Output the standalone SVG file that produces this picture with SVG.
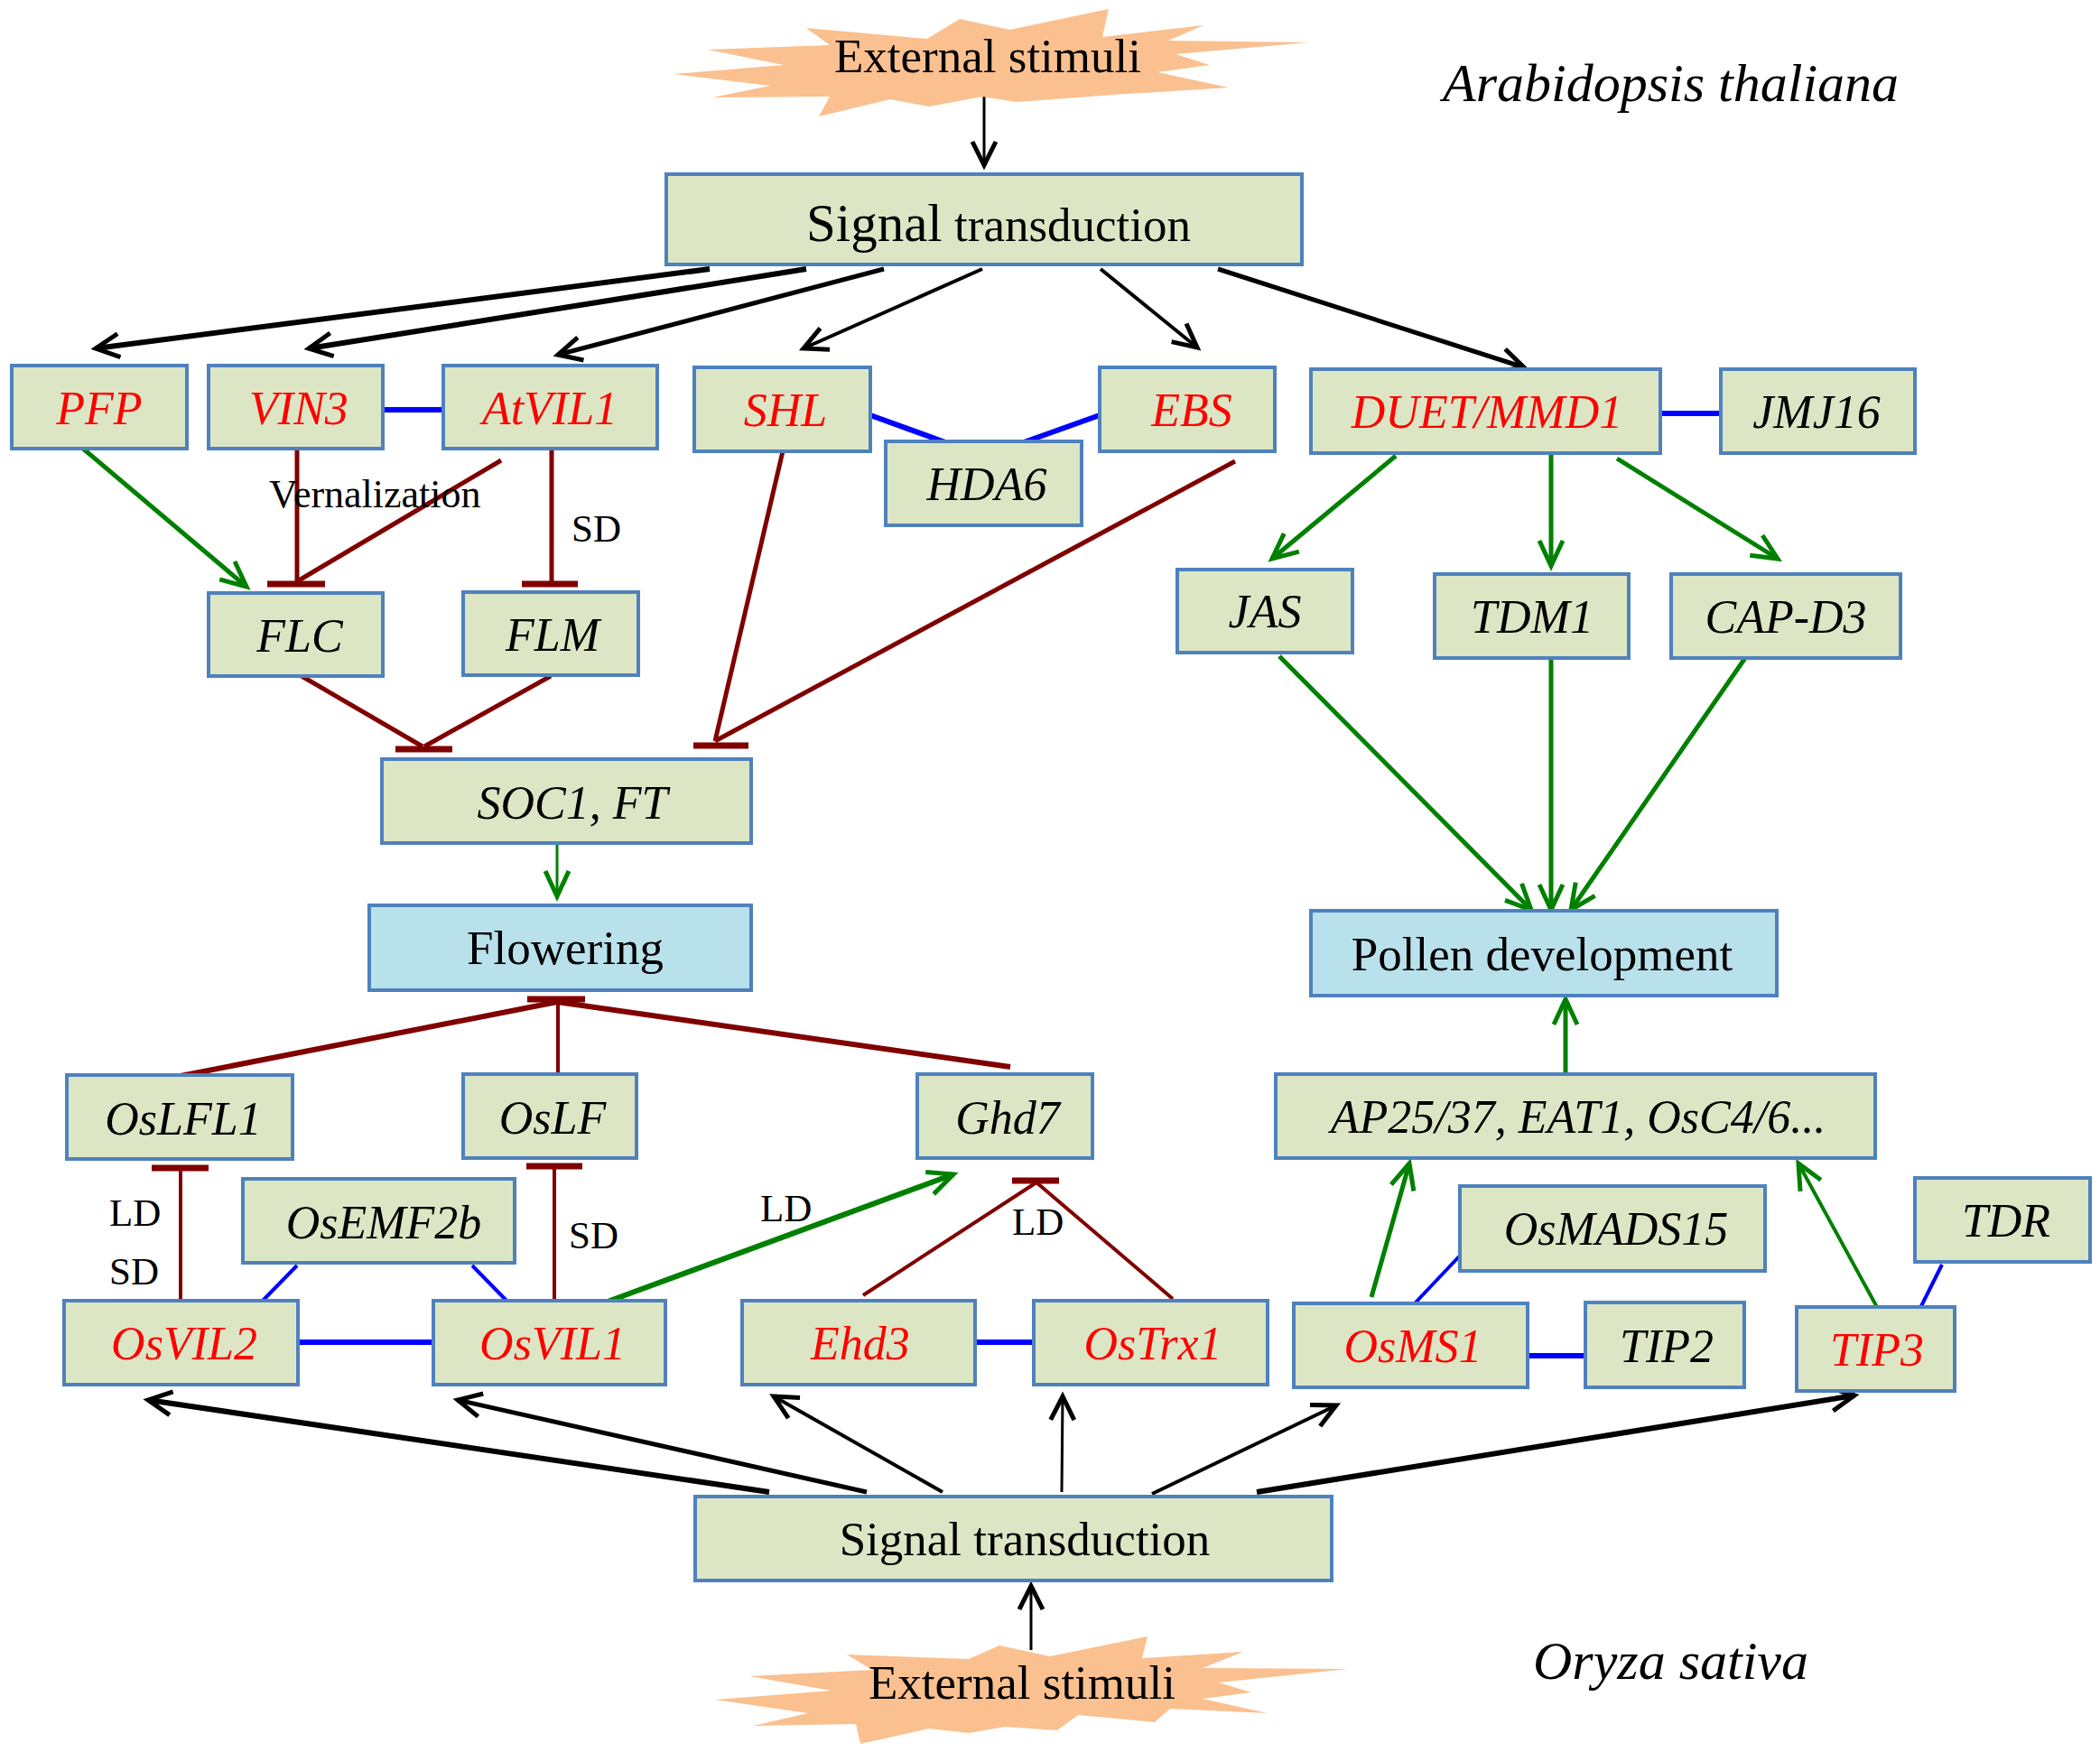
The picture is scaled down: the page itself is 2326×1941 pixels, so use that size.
<svg xmlns="http://www.w3.org/2000/svg" width="2326" height="1941" viewBox="0 0 2326 1941">
<defs>
<style>
.box{fill:#DCE6C4;stroke:#4F81BD;stroke-width:4}
.out{fill:#B9E1EB;stroke:#4F81BD;stroke-width:4}
.star{fill:#FAC08F;stroke:none}
text{font-family:"Liberation Serif","Times New Roman",serif;font-size:53px;fill:#000}
.g{font-style:italic;font-size:52px;text-anchor:middle}
.r{fill:#FF0000}
.c{text-anchor:middle}
.lab{font-size:43px}
.blk{stroke:#000;stroke-width:5;fill:none;marker-end:url(#ab)}
.grn{stroke:#008000;stroke-width:5;fill:none;marker-end:url(#ag)}
.inh{stroke:#800000;stroke-width:5;fill:none}
.bar{stroke:#800000;stroke-width:7;fill:none}
.ppi{stroke:#0000FF;stroke-width:6;fill:none}
</style>
<marker id="ab" markerUnits="userSpaceOnUse" orient="auto" overflow="visible" markerWidth="40" markerHeight="40" refX="0" refY="0">
<path d="M-26,-13 L0,0 L-26,13" fill="none" stroke="#000" stroke-width="5"/>
</marker>
<marker id="ag" markerUnits="userSpaceOnUse" orient="auto" overflow="visible" markerWidth="40" markerHeight="40" refX="0" refY="0">
<path d="M-28,-13 L0,0 L-28,13" fill="none" stroke="#008000" stroke-width="5"/>
</marker>
</defs>
<rect width="2326" height="1941" fill="#FFFFFF"/>

<g id="connectors">
<!-- black signal arrows, top -->
<line class="blk" x1="1090" y1="107" x2="1090" y2="183" style="stroke-width:3"/>
<line class="blk" x1="786" y1="298" x2="106" y2="386" style="stroke-width:6"/>
<line class="blk" x1="893" y1="298" x2="342" y2="386" style="stroke-width:6"/>
<line class="blk" x1="979" y1="298" x2="618" y2="393"/>
<line class="blk" x1="1088" y1="298" x2="890" y2="386" style="stroke-width:4"/>
<line class="blk" x1="1219" y1="298" x2="1326" y2="385" style="stroke-width:4"/>
<line class="blk" x1="1349" y1="298" x2="1688" y2="407"/>
<!-- black signal arrows, bottom -->
<line class="blk" x1="1142" y1="1828" x2="1142" y2="1757" style="stroke-width:3"/>
<line class="blk" x1="852" y1="1653" x2="164" y2="1551" style="stroke-width:6"/>
<line class="blk" x1="960" y1="1653" x2="507" y2="1551"/>
<line class="blk" x1="1044" y1="1653" x2="857" y2="1547" style="stroke-width:4"/>
<line class="blk" x1="1176" y1="1653" x2="1177" y2="1547" style="stroke-width:3"/>
<line class="blk" x1="1276" y1="1655" x2="1480" y2="1557" style="stroke-width:4"/>
<line class="blk" x1="1392" y1="1653" x2="2054" y2="1546" style="stroke-width:6"/>
<!-- green activation arrows -->
<line class="grn" x1="92" y1="497" x2="273" y2="650"/>
<line class="grn" x1="617" y1="934" x2="617" y2="993" style="stroke-width:3"/>
<line class="grn" x1="1546" y1="505" x2="1409" y2="619"/>
<line class="grn" x1="1718" y1="502" x2="1718" y2="627"/>
<line class="grn" x1="1791" y1="508" x2="1969" y2="619"/>
<line class="grn" x1="1417" y1="727" x2="1696" y2="1008"/>
<line class="grn" x1="1718" y1="729" x2="1718" y2="1008"/>
<line class="grn" x1="1933" y1="729" x2="1740" y2="1008"/>
<line class="grn" x1="1734" y1="1190" x2="1734" y2="1107"/>
<line class="grn" x1="1519" y1="1437" x2="1561" y2="1289"/>
<line class="grn" x1="2080" y1="1450" x2="1992" y2="1289" style="stroke-width:4"/>
<line class="grn" x1="673" y1="1442" x2="1056" y2="1301" style="stroke-width:6"/>
<!-- inhibition -->
<line class="inh" x1="329" y1="497" x2="329" y2="645"/>
<line class="bar" x1="296" y1="647" x2="360" y2="647"/>
<line class="inh" x1="555" y1="510" x2="331" y2="643"/>
<line class="inh" x1="611" y1="497" x2="611" y2="645"/>
<line class="bar" x1="578" y1="647" x2="640" y2="647"/>
<line class="inh" x1="334" y1="749" x2="468" y2="827"/>
<line class="inh" x1="610" y1="749" x2="470" y2="827"/>
<line class="bar" x1="438" y1="830" x2="501" y2="830"/>
<line class="inh" x1="867" y1="500" x2="792" y2="821"/>
<line class="inh" x1="1368" y1="511" x2="792" y2="821"/>
<line class="bar" x1="768" y1="826" x2="829" y2="826"/>
<line class="inh" x1="200" y1="1192" x2="617" y2="1110" style="stroke-width:6"/>
<line class="inh" x1="618" y1="1190" x2="618" y2="1110" style="stroke-width:4"/>
<line class="inh" x1="1119" y1="1182" x2="617" y2="1110" style="stroke-width:6"/>
<line class="bar" x1="584" y1="1107" x2="648" y2="1107"/>
<line class="inh" x1="200" y1="1441" x2="200" y2="1294" style="stroke-width:4"/>
<line class="bar" x1="168" y1="1294" x2="231" y2="1294"/>
<line class="inh" x1="614" y1="1441" x2="614" y2="1292" style="stroke-width:4"/>
<line class="bar" x1="583" y1="1292" x2="645" y2="1292"/>
<line class="inh" x1="956" y1="1435" x2="1148" y2="1310" style="stroke-width:4"/>
<line class="inh" x1="1299" y1="1439" x2="1148" y2="1310" style="stroke-width:4"/>
<line class="bar" x1="1121" y1="1308" x2="1173" y2="1308"/>
<!-- interactions -->
<line class="ppi" x1="424" y1="454" x2="491" y2="454"/>
<line class="ppi" x1="964" y1="460" x2="1047" y2="490"/>
<line class="ppi" x1="1218" y1="460" x2="1134" y2="490"/>
<line class="ppi" x1="1839" y1="458" x2="1906" y2="458"/>
<line class="ppi" x1="329" y1="1402" x2="287" y2="1445" style="stroke-width:4"/>
<line class="ppi" x1="523" y1="1402" x2="565" y2="1445" style="stroke-width:4"/>
<line class="ppi" x1="330" y1="1487" x2="480" y2="1487"/>
<line class="ppi" x1="1080" y1="1487" x2="1145" y2="1487"/>
<line class="ppi" x1="1566" y1="1445" x2="1619" y2="1389" style="stroke-width:4"/>
<line class="ppi" x1="1692" y1="1502" x2="1756" y2="1502"/>
<line class="ppi" x1="2125" y1="1453" x2="2151" y2="1401" style="stroke-width:4"/>
</g>

<g id="stimuli-top">
<polygon class="star" points="746,82 868,72 784,55 919,50 893,31 1027,43 1063,21 1118,33 1228,10 1221,41 1333,28 1294,45 1450,47 1302,60 1340,72 1282,80 1361,97 1233,105 1126,113 1088,107 1029,118 986,110 907,129 919,107 789,108 853,95"/>
<text class="c" x="1094" y="80">External stimuli</text>
</g>
<g id="signal-top">
<rect class="box" x="738" y="193" width="704" height="100"/>
<text class="c" x="1106" y="267"><tspan font-size="59">Signal</tspan> transduction</text>
</g>

<g id="PFP"><rect class="box" x="13" y="405" width="194" height="92"/><text class="g r" x="110" y="470">PFP</text></g>
<g id="VIN3"><rect class="box" x="231" y="405" width="193" height="92"/><text class="g r" x="331" y="470">VIN3</text></g>
<g id="AtVIL1"><rect class="box" x="491" y="405" width="237" height="92"/><text class="g r" x="609" y="470">AtVIL1</text></g>
<g id="SHL"><rect class="box" x="769" y="407" width="195" height="93"/><text class="g r" x="870" y="472">SHL</text></g>
<g id="EBS"><rect class="box" x="1218" y="407" width="194" height="93"/><text class="g r" x="1320" y="472">EBS</text></g>
<g id="HDA6"><rect class="box" x="981" y="489" width="217" height="93"/><text class="g" x="1093" y="554">HDA6</text></g>
<g id="DUET"><rect class="box" x="1452" y="409" width="387" height="93"/><text class="g r" x="1647" y="474">DUET/MMD1</text></g>
<g id="JMJ16"><rect class="box" x="1906" y="409" width="215" height="93"/><text class="g" x="2012" y="474">JMJ16</text></g>
<g id="FLC"><rect class="box" x="231" y="657" width="193" height="92"/><text class="g" x="332" y="722">FLC</text></g>
<g id="FLM"><rect class="box" x="513" y="656" width="194" height="92"/><text class="g" x="612" y="721">FLM</text></g>
<g id="JAS"><rect class="box" x="1304" y="631" width="194" height="92"/><text class="g" x="1401" y="695">JAS</text></g>
<g id="TDM1"><rect class="box" x="1589" y="636" width="215" height="93"/><text class="g" x="1697" y="701">TDM1</text></g>
<g id="CAP-D3"><rect class="box" x="1851" y="636" width="254" height="93"/><text class="g" x="1978" y="701">CAP-D3</text></g>
<g id="SOC1"><rect class="box" x="423" y="841" width="409" height="93"/><text class="g" x="634" y="907">SOC1, FT</text></g>
<g id="Flowering"><rect class="out" x="409" y="1003" width="423" height="94"/><text class="c" x="626" y="1068">Flowering</text></g>
<g id="Pollen"><rect class="out" x="1452" y="1009" width="516" height="94"/><text class="c" x="1708" y="1075">Pollen development</text></g>
<g id="AP25"><rect class="box" x="1413" y="1190" width="664" height="93"/><text class="g" x="1748" y="1255">AP25/37, EAT1, OsC4/6...</text></g>
<g id="OsLFL1"><rect class="box" x="74" y="1191" width="250" height="93"/><text class="g" x="203" y="1257">OsLFL1</text></g>
<g id="OsLF"><rect class="box" x="513" y="1190" width="192" height="93"/><text class="g" x="612" y="1256">OsLF</text></g>
<g id="Ghd7"><rect class="box" x="1016" y="1190" width="194" height="93"/><text class="g" x="1116" y="1256">Ghd7</text></g>
<g id="OsEMF2b"><rect class="box" x="269" y="1306" width="301" height="93"/><text class="g" x="425" y="1372">OsEMF2b</text></g>
<g id="OsVIL2"><rect class="box" x="71" y="1441" width="259" height="93"/><text class="g r" x="204" y="1506">OsVIL2</text></g>
<g id="OsVIL1"><rect class="box" x="480" y="1441" width="257" height="93"/><text class="g r" x="612" y="1506">OsVIL1</text></g>
<g id="Ehd3"><rect class="box" x="822" y="1441" width="258" height="93"/><text class="g r" x="953" y="1506">Ehd3</text></g>
<g id="OsTrx1"><rect class="box" x="1145" y="1441" width="259" height="93"/><text class="g r" x="1277" y="1506">OsTrx1</text></g>
<g id="OsMADS15"><rect class="box" x="1617" y="1314" width="338" height="94"/><text class="g" x="1790" y="1379">OsMADS15</text></g>
<g id="TDR"><rect class="box" x="2121" y="1305" width="194" height="93"/><text class="g" x="2222" y="1370">TDR</text></g>
<g id="OsMS1"><rect class="box" x="1433" y="1444" width="259" height="93"/><text class="g r" x="1565" y="1509">OsMS1</text></g>
<g id="TIP2"><rect class="box" x="1756" y="1443" width="176" height="94"/><text class="g" x="1846" y="1509">TIP2</text></g>
<g id="TIP3"><rect class="box" x="1990" y="1448" width="175" height="93"/><text class="g r" x="2079" y="1513">TIP3</text></g>

<g id="signal-bottom">
<rect class="box" x="770" y="1658" width="705" height="93"/>
<text class="c" x="1135" y="1723">Signal transduction</text>
</g>
<g id="stimuli-bottom">
<polygon class="star" points="792,1883 921,1873 830,1857 966,1850 938,1833 1073,1838 1107,1823 1163,1835 1271,1813 1265,1837 1377,1830 1332,1848 1493,1849 1350,1864 1386,1875 1332,1882 1404,1898 1296,1893 1279,1908 1194,1900 1171,1917 1113,1913 1073,1920 1029,1915 953,1932 948,1910 834,1912 895,1898"/>
<text class="c" x="1132" y="1882">External stimuli</text>
</g>

<g id="labels">
<text x="298" y="562" style="font-size:44px">Vernalization</text>
<text class="lab" x="633" y="600">SD</text>
<text class="lab" x="121" y="1358">LD</text>
<text class="lab" x="121" y="1423">SD</text>
<text class="lab" x="630" y="1383">SD</text>
<text class="lab" x="842" y="1353">LD</text>
<text class="lab" x="1121" y="1368">LD</text>
<text x="1598" y="112" style="font-size:60px;font-style:italic">Arabidopsis thaliana</text>
<text x="1698" y="1860" style="font-size:60px;font-style:italic">Oryza sativa</text>
</g>
</svg>
